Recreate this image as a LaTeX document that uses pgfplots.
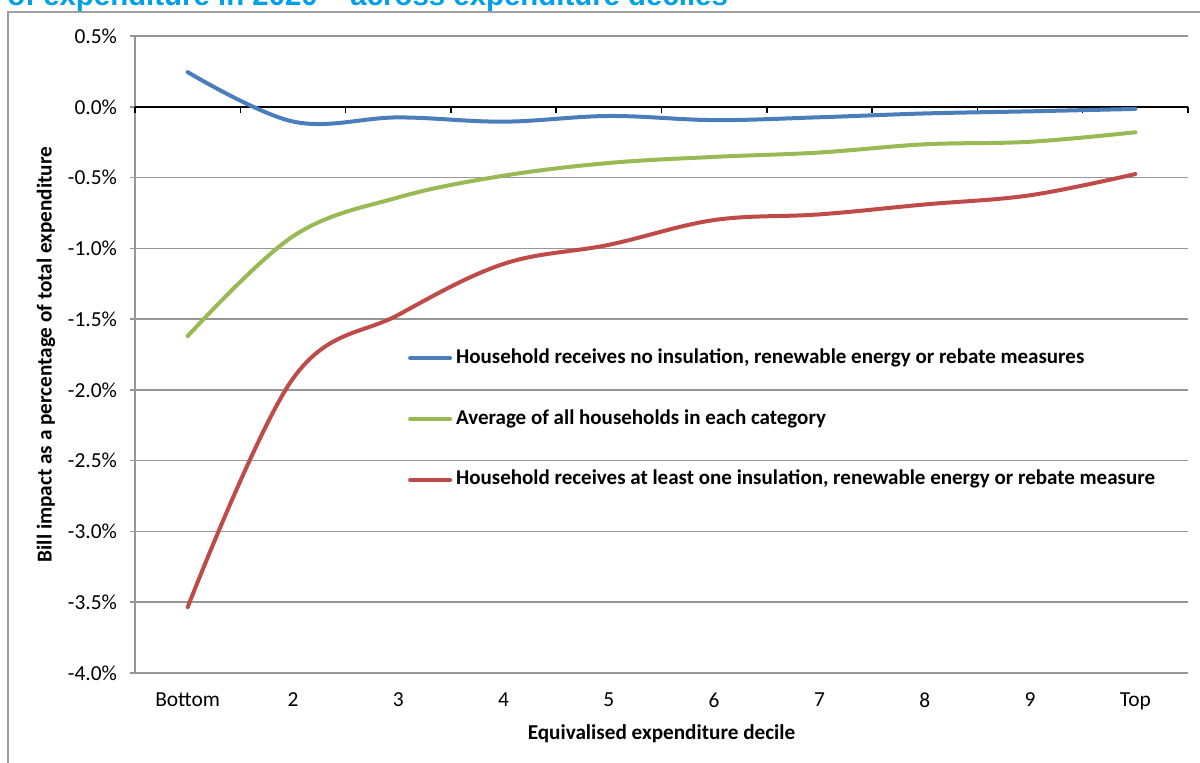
\documentclass[border=0pt]{standalone}
\usepackage{pgfplots}
\pgfplotsset{compat=1.18}
\usepackage{fontspec}
\setmainfont{Carlito}
\newfontfamily\titlefont{Liberation Sans}
\definecolor{gridgray}{RGB}{150,150,150}
\definecolor{framegray}{RGB}{160,160,160}
\definecolor{seriesblue}{RGB}{74,126,187}
\definecolor{seriesgreen}{RGB}{152,185,84}
\definecolor{seriesred}{RGB}{190,75,72}
\definecolor{titleblue}{RGB}{0,160,230}

\begin{document}
\begin{tikzpicture}
\useasboundingbox (0pt,0pt) rectangle (600pt,-381pt);
% chart frame and heading
\draw[framegray, line width=0.75pt] (4pt,-420pt) -- (4pt,-6pt) -- (640pt,-6pt);
\node[anchor=base west, inner sep=0, font=\titlefont\bfseries\fontsize{14.7}{16}\selectfont, text=titleblue] at (3.5pt,-2.5pt) {of expenditure in 2020 – across expenditure deciles};
\begin{axis}[
  at={(67.5pt,-336.5pt)}, anchor=south west,
  scale only axis, width=526.5pt, height=318.5pt,
  xmin=0.5, xmax=10.5, ymin=-4, ymax=0.5,
  axis x line*=bottom, axis y line*=left,
  axis line style={-},
  x axis line style={draw=none},
  y axis line style={gridgray, line width=0.75pt},
  xtick={1,...,10},
  xticklabels={Bottom,2,3,4,5,6,7,8,9,Top},
  xtick style={draw=none},
  ytick={-4,-3.5,-3,-2.5,-2,-1.5,-1,-0.5,0,0.5},
  yticklabels={-4.0\%,-3.5\%,-3.0\%,-2.5\%,-2.0\%,-1.5\%,-1.0\%,-0.5\%,0.0\%,0.5\%},
  ytick style={gridgray, line width=0.75pt},
  tick align=outside, major tick length=2.5pt,
  ymajorgrids, grid style={gridgray, line width=0.75pt},
  tick label style={font=\fontsize{10.7}{12}\selectfont},
  yticklabel style={xshift=-3pt},
  xticklabel style={yshift=-4pt},
  xlabel={Equivalised expenditure decile},
  ylabel={Bill impact as a percentage of total expenditure},
  xlabel style={at={(rel axis cs:0.5,0)}, anchor=center, yshift=-30.5pt, font=\bfseries\fontsize{10.6}{12}\selectfont},
  ylabel style={at={(rel axis cs:-0.0845,0.5)}, anchor=center, font=\bfseries\fontsize{10.6}{12}\selectfont},
  legend style={at={(axis cs:3.09,-1.675)}, anchor=north west, draw=none, fill=none, inner sep=0pt,
    font=\bfseries\fontsize{10.5}{12}\selectfont, row sep=17.6pt},
  legend cell align=left,
  legend image code/.code={\draw[#1, line width=2pt] (0pt,-0.6pt) -- (20pt,-0.6pt);},
  clip=false,
]
% category axis along zero with ticks at decile boundaries
\draw[black, line width=0.75pt] (axis cs:0.5,0) -- (axis cs:10.5,0);
\pgfplotsinvokeforeach{0.5,1.5,...,10.5}{\draw[black, line width=0.75pt] (axis cs:#1,0) -- ++(0pt,-3pt);}

\addplot[seriesblue, line width=2pt, line cap=round, smooth, tension=0.6] coordinates {
  (1,0.245) (2,-0.104) (3,-0.075) (4,-0.105) (5,-0.065)
  (6,-0.094) (7,-0.074) (8,-0.047) (9,-0.032) (10,-0.015)};
\addlegendentry{Household receives no insulation, renewable energy or rebate measures}
\addplot[seriesgreen, line width=2pt, line cap=round, smooth, tension=0.6] coordinates {
  (1,-1.62) (2,-0.915) (3,-0.64) (4,-0.487) (5,-0.397)
  (6,-0.354) (7,-0.323) (8,-0.265) (9,-0.247) (10,-0.18)};
\addlegendentry{Average of all households in each category}
\addplot[seriesred, line width=2pt, line cap=round, smooth, tension=0.6] coordinates {
  (1,-3.535) (2,-1.92) (3,-1.47) (4,-1.11) (5,-0.975)
  (6,-0.80) (7,-0.76) (8,-0.69) (9,-0.625) (10,-0.475)};
\addlegendentry{Household receives at least one insulation, renewable energy or rebate measure}
\end{axis}
\end{tikzpicture}
\end{document}
